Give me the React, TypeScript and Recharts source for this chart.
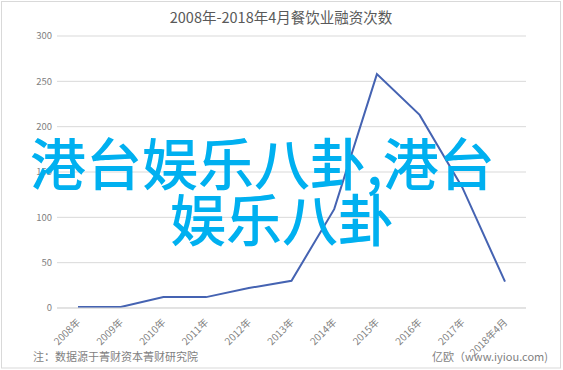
import React from 'react';
import { LineChart, Line, XAxis, YAxis, CartesianGrid } from 'recharts';

const years = ['2008年', '2009年', '2010年', '2011年', '2012年', '2013年', '2014年', '2015年', '2016年', '2017年', '2018年4月'];
const counts = [1, 1, 12, 12, 22, 30, 109, 258, 213, 133, 29];
const yTicks = [0, 50, 100, 150, 200, 250, 300];

const data = years.map((year, i) => ({ year, count: counts[i] }));

const FONT = '"Noto Sans CJK SC", "Noto Sans", sans-serif';

const XTick = (props: any) => {
  const { x, y, payload } = props;
  return (
    <g transform={`translate(${x + 3},${y + 7})`}>
      <text
        x={0}
        y={0}
        textAnchor="end"
        transform="rotate(-45)"
        fontSize={10}
        fill="#7f7f7f"
        fontFamily={FONT}
      >
        {payload.value}
      </text>
    </g>
  );
};

export default function App() {
  return (
    <div style={{ position: 'absolute', left: 0, top: 0, width: 563, height: 370, background: '#fff' }}>
      <svg width={563} height={370} style={{ position: 'absolute', left: 0, top: 0 }}>
        <rect x={1.5} y={1.5} width={559} height={366.5} fill="#fff" stroke="#d9d9d9" strokeWidth={1} />
      </svg>
      <div style={{ position: 'absolute', left: 0, top: 0 }}>
        <LineChart width={563} height={370} data={data} margin={{ top: 36, right: 37, bottom: 0, left: 0 }}>
          <CartesianGrid vertical={false} stroke="#d9d9d9" />
          <XAxis
            dataKey="year"
            height={62}
            interval={0}
            padding={{ left: 21, right: 21 }}
            axisLine={{ stroke: '#d9d9d9' }}
            tickLine={false}
            tick={<XTick />}
          />
          <YAxis
            width={57}
            domain={[0, 300]}
            ticks={yTicks}
            axisLine={false}
            tickLine={false}
            tickSize={3}
            tickMargin={2}
            tick={{ fontSize: 9.5, fill: '#7f7f7f', fontFamily: FONT }}
          />
          <Line
            type="linear"
            dataKey="count"
            stroke="#4563b2"
            strokeWidth={2}
            dot={false}
            isAnimationActive={false}
          />
        </LineChart>
      </div>
      <svg width={563} height={370} style={{ position: 'absolute', left: 0, top: 0, pointerEvents: 'none' }}>
        <text x={281} y={23} textAnchor="middle" fontSize={14.5} fill="#595959" fontFamily={FONT}>
          2008年-2018年4月餐饮业融资次数
        </text>
        <text x={33} y={361} fontSize={11} fill="#7f7f7f" fontFamily={FONT}>
          注：数据源于菁财资本菁财研究院
        </text>
        <text x={548} y={361} textAnchor="end" fontSize={11} fill="#7f7f7f" fontFamily={FONT}>
          亿欧（www.iyiou.com)
        </text>
        <text x={30} y={185} fontSize={56} fill="#00b0f0" fontFamily={FONT} fontWeight={500}>
          港台娱乐八卦,港台
        </text>
        <text x={170} y={241} fontSize={56} fill="#00b0f0" fontFamily={FONT} fontWeight={500}>
          娱乐八卦
        </text>
      </svg>
    </div>
  );
}
